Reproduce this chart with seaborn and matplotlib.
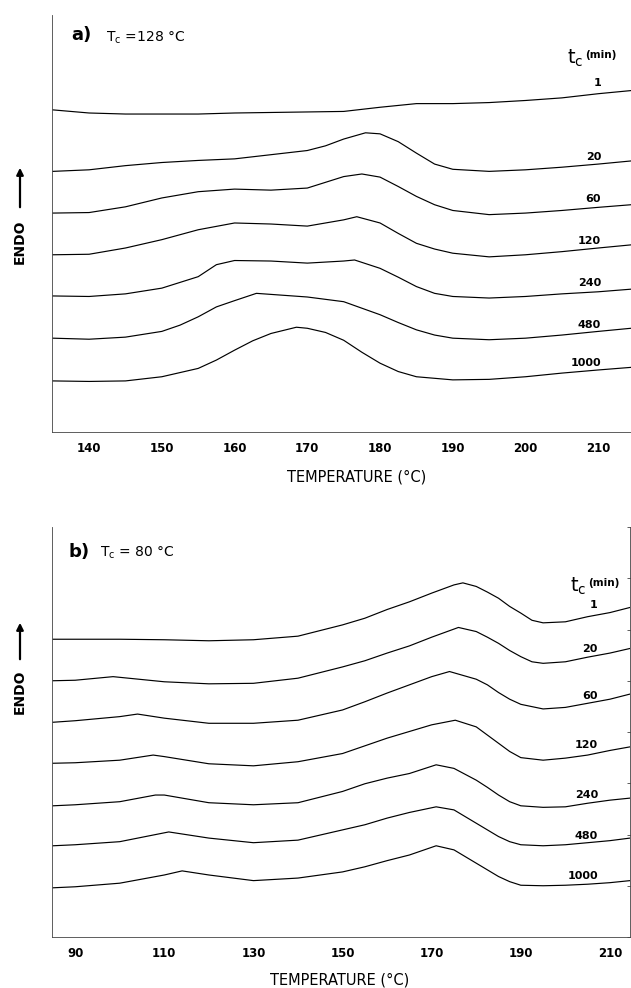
import matplotlib
matplotlib.use("Agg")
import matplotlib.pyplot as plt
import pandas as pd
import seaborn as sns

W, H = 631, 988

# ---------------- panel a : Tc = 128 °C ----------------
a_labels = ["1", "20", "60", "120", "240", "480", "1000"]

a_t1_T = [135, 140, 145, 150, 155, 160, 165, 170, 175, 180, 185, 190, 195, 200, 205, 210, 214.5]
a_t1_y = [6.18, 6.12, 6.10, 6.10, 6.10, 6.12, 6.13, 6.14, 6.15, 6.23, 6.30, 6.30, 6.32, 6.36, 6.41, 6.49, 6.55]

a_t20_T = [135, 140, 145, 150, 155, 160, 165, 170, 172.5, 175, 178, 180, 182.5, 185, 187.5, 190, 195, 200, 205, 210, 214.5]
a_t20_y = [5.00, 5.03, 5.11, 5.17, 5.21, 5.24, 5.32, 5.40, 5.49, 5.62, 5.74, 5.72, 5.57, 5.35, 5.14, 5.04, 5.00, 5.03, 5.08, 5.14, 5.20]

a_t60_T = [135, 140, 145, 150, 155, 160, 165, 170, 175, 177.5, 180, 182.5, 185, 187.5, 190, 195, 200, 205, 210, 214.5]
a_t60_y = [4.20, 4.21, 4.32, 4.49, 4.61, 4.66, 4.64, 4.68, 4.90, 4.95, 4.89, 4.71, 4.52, 4.36, 4.25, 4.17, 4.20, 4.25, 4.31, 4.36]

a_t120_T = [135, 140, 145, 150, 155, 160, 165, 170, 175, 176.8, 180, 182.5, 185, 187.5, 190, 195, 200, 205, 210, 214.5]
a_t120_y = [3.40, 3.41, 3.53, 3.69, 3.88, 4.01, 3.99, 3.95, 4.07, 4.13, 4.01, 3.81, 3.62, 3.51, 3.43, 3.36, 3.40, 3.46, 3.53, 3.59]

a_t240_T = [135, 140, 145, 150, 155, 157.5, 160, 165, 170, 175, 176.5, 180, 182.5, 185, 187.5, 190, 195, 200, 205, 210, 214.5]
a_t240_y = [2.61, 2.60, 2.65, 2.76, 2.98, 3.21, 3.29, 3.28, 3.24, 3.28, 3.30, 3.14, 2.97, 2.79, 2.66, 2.60, 2.57, 2.60, 2.65, 2.69, 2.74]

a_t480_T = [135, 140, 145, 150, 152.5, 155, 157.5, 160, 163, 165, 170, 175, 180, 182.5, 185, 187.5, 190, 195, 200, 205, 210, 214.5]
a_t480_y = [1.80, 1.78, 1.82, 1.93, 2.05, 2.21, 2.40, 2.52, 2.66, 2.64, 2.59, 2.50, 2.25, 2.10, 1.96, 1.86, 1.80, 1.77, 1.80, 1.86, 1.93, 1.99]

a_t1000_T = [135, 140, 145, 150, 155, 157.5, 160, 162.5, 165, 168.5, 170, 172.5, 175, 177.5, 180, 182.5, 185, 190, 195, 200, 205, 210, 214.5]
a_t1000_y = [0.98, 0.97, 0.98, 1.06, 1.22, 1.38, 1.57, 1.75, 1.89, 2.01, 1.99, 1.91, 1.76, 1.53, 1.32, 1.16, 1.06, 1.00, 1.01, 1.06, 1.13, 1.19, 1.24]

a_label_y = [6.70, 5.28, 4.47, 3.67, 2.85, 2.05, 1.32]
a_ticks = [140, 150, 160, 170, 180, 190, 200, 210]

# ---------------- panel b : Tc = 80 °C ----------------
b_labels = ["1", "20", "60", "120", "240", "480", "1000"]

b_t1_T = [85, 90, 100, 110, 120, 130, 140, 150, 155, 160, 165, 170, 175, 177, 180, 182.5, 185, 187.5, 190, 192.5, 195, 200, 205, 210, 214.5]
b_t1_y = [5.81, 5.81, 5.81, 5.80, 5.78, 5.80, 5.87, 6.09, 6.22, 6.39, 6.54, 6.71, 6.87, 6.91, 6.84, 6.73, 6.61, 6.45, 6.32, 6.18, 6.13, 6.15, 6.25, 6.33, 6.43]

b_t20_T = [85, 90, 98.5, 110, 120, 130, 140, 150, 155, 160, 165, 170, 176, 180, 182.5, 185, 187.5, 190, 192.5, 195, 200, 205, 210, 214.5]
b_t20_y = [5.00, 5.01, 5.08, 4.98, 4.94, 4.95, 5.05, 5.27, 5.39, 5.54, 5.68, 5.85, 6.04, 5.96, 5.85, 5.73, 5.59, 5.47, 5.37, 5.34, 5.37, 5.46, 5.54, 5.63]

b_t60_T = [85, 90, 100, 104, 110, 120, 130, 140, 150, 155, 160, 165, 170, 174, 180, 182.5, 185, 187.5, 190, 195, 200, 205, 210, 214.5]
b_t60_y = [4.19, 4.22, 4.30, 4.35, 4.27, 4.17, 4.17, 4.23, 4.43, 4.59, 4.76, 4.92, 5.08, 5.18, 5.03, 4.92, 4.77, 4.64, 4.54, 4.45, 4.48, 4.56, 4.64, 4.74]

b_t120_T = [85, 90, 100, 107.5, 110, 120, 130, 140, 150, 155, 160, 165, 170, 175.3, 180, 182.5, 185, 187.5, 190, 195, 200, 205, 210, 214.5]
b_t120_y = [3.39, 3.40, 3.45, 3.55, 3.52, 3.38, 3.34, 3.42, 3.58, 3.73, 3.88, 4.01, 4.14, 4.23, 4.10, 3.94, 3.78, 3.62, 3.50, 3.45, 3.49, 3.55, 3.64, 3.71]

b_t240_T = [85, 90, 100, 108, 110, 120, 130, 140, 150, 155, 160, 165, 171, 175, 180, 182.5, 185, 187.5, 190, 195, 200, 205, 210, 214.5]
b_t240_y = [2.56, 2.58, 2.64, 2.77, 2.77, 2.62, 2.58, 2.62, 2.84, 2.99, 3.10, 3.19, 3.36, 3.29, 3.06, 2.92, 2.77, 2.64, 2.56, 2.53, 2.54, 2.61, 2.67, 2.71]

b_t480_T = [85, 90, 100, 111, 120, 130, 140, 150, 155, 160, 165, 171, 175, 180, 182.5, 185, 187.5, 190, 195, 200, 205, 210, 214.5]
b_t480_y = [1.78, 1.80, 1.86, 2.05, 1.93, 1.84, 1.89, 2.09, 2.19, 2.32, 2.43, 2.54, 2.48, 2.22, 2.09, 1.96, 1.86, 1.80, 1.78, 1.80, 1.84, 1.88, 1.93]

b_t1000_T = [85, 90, 100, 110, 114, 120, 130, 140, 150, 155, 160, 165, 171, 175, 180, 182.5, 185, 187.5, 190, 195, 200, 205, 210, 214.5]
b_t1000_y = [0.96, 0.98, 1.05, 1.21, 1.29, 1.21, 1.10, 1.15, 1.27, 1.37, 1.49, 1.60, 1.78, 1.70, 1.44, 1.31, 1.18, 1.08, 1.01, 1.00, 1.01, 1.03, 1.06, 1.10]

b_label_y = [6.48, 5.61, 4.70, 3.75, 2.77, 1.97, 1.19]
b_ticks = [90, 110, 130, 150, 170, 190, 210]


def long_form(labels, Ts, ys):
    frames = []
    for lab, T, y in zip(labels, Ts, ys):
        frames.append(pd.DataFrame({"T": T, "y": y, "tc": lab}))
    return pd.concat(frames, ignore_index=True)


df_a = long_form(a_labels,
                 [a_t1_T, a_t20_T, a_t60_T, a_t120_T, a_t240_T, a_t480_T, a_t1000_T],
                 [a_t1_y, a_t20_y, a_t60_y, a_t120_y, a_t240_y, a_t480_y, a_t1000_y])
df_b = long_form(b_labels,
                 [b_t1_T, b_t20_T, b_t60_T, b_t120_T, b_t240_T, b_t480_T, b_t1000_T],
                 [b_t1_y, b_t20_y, b_t60_y, b_t120_y, b_t240_y, b_t480_y, b_t1000_y])

sns.set_style("white")
plt.rcParams["font.family"] = ["DejaVu Sans"]
plt.rcParams["mathtext.fontset"] = "dejavusans"
plt.rcParams["text.color"] = "black"
plt.rcParams["xtick.color"] = "black"
plt.rcParams["ytick.color"] = "black"

fig = plt.figure(figsize=(W / 100, H / 100), dpi=100)
fig.patch.set_facecolor("white")


def box(l, t, r, b):
    return [l / W, 1 - b / H, (r - l) / W, (b - t) / H]


def fx(x):
    return x / W


def fy(y):
    return 1 - y / H


ax_a = fig.add_axes(box(52, 15, 631, 432))
ax_b = fig.add_axes(box(52, 527, 630, 937))

spine_col = "#444444"

for ax, df, xlim, ticks, labels, label_y, label_x, right_spine in [
    (ax_a, df_a, (134.9, 214.5), a_ticks, a_labels, a_label_y, 210.4, False),
    (ax_b, df_b, (84.8, 214.5), b_ticks, b_labels, b_label_y, 207.3, True),
]:
    sns.lineplot(data=df, x="T", y="y", units="tc", estimator=None, sort=False,
                 color="black", linewidth=0.85, ax=ax, legend=False)
    ax.set_xlim(*xlim)
    ax.set_ylim(0, 8)
    ax.set_xticks(ticks)
    ax.set_yticks(range(9))
    ax.set_yticklabels([])
    ax.set_xlabel("")
    ax.set_ylabel("")
    ax.set_facecolor("white")
    ax.spines["top"].set_visible(False)
    ax.spines["right"].set_visible(right_spine)
    for s in ["left", "bottom", "right"]:
        ax.spines[s].set_color(spine_col)
        ax.spines[s].set_linewidth(0.6)
    ax.tick_params(axis="x", direction="inout", length=5, width=0.7,
                   color=spine_col, labelcolor="black", labelsize=8.5, pad=5)
    ax.tick_params(axis="y", direction="inout", length=4, width=0.6,
                   color=spine_col, right=right_spine)
    for lbl in ax.get_xticklabels():
        lbl.set_fontweight("bold")
    for lab, yy in zip(labels, label_y):
        ax.text(label_x, yy, lab, ha="right", va="center",
                fontsize=8, fontweight="bold", color="black")

# axis titles
fig.text(fx(357), fy(477), "TEMPERATURE (°C)", ha="center", va="center", fontsize=10.5)
fig.text(fx(340), fy(980), "TEMPERATURE (°C)", ha="center", va="center", fontsize=10.5)

# panel headings
fig.text(fx(71), fy(35), "a)", ha="left", va="center", fontsize=13, fontweight="bold")
fig.text(fx(106), fy(38), r"T$_\mathrm{c}$ =128 °C", ha="left", va="center", fontsize=10)
fig.text(fx(68), fy(552), "b)", ha="left", va="center", fontsize=13, fontweight="bold")
fig.text(fx(100), fy(553), r"T$_\mathrm{c}$ = 80 °C", ha="left", va="center", fontsize=10)

# tc(min) headers
for x0, y0 in [(567, 58), (570, 586)]:
    fig.text(fx(x0), fy(y0), r"t$_\mathrm{c}$", ha="left", va="center", fontsize=14)
    fig.text(fx(x0 + 18), fy(y0 - 3), "(min)", ha="left", va="center",
             fontsize=7.5, fontweight="bold")

# ENDO arrows
for yc, y_tail, y_head in [(242, 210, 165), (692, 662, 620)]:
    fig.text(fx(20), fy(yc), "ENDO", rotation=90, ha="center", va="center",
             fontsize=10, fontweight="bold")
    fig.add_artist(matplotlib.patches.FancyArrowPatch(
        (fx(20), fy(y_tail)), (fx(20), fy(y_head)), transform=fig.transFigure,
        arrowstyle="-|>,head_length=4,head_width=2", color="black", linewidth=1.6))

fig.savefig("out.png", dpi=100, facecolor="white")
